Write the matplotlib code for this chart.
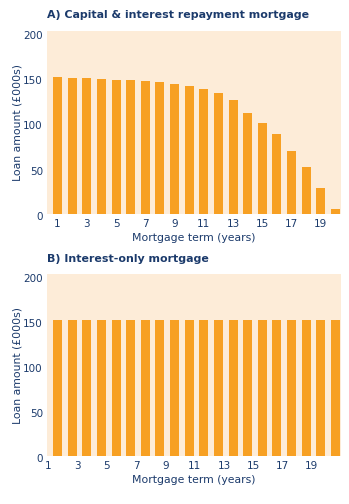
import matplotlib
matplotlib.use("Agg")
import matplotlib.pyplot as plt
import matplotlib.transforms as mtransforms
import numpy as np

years = list(range(1, 21))
repayment_loan = [151, 150, 150, 149, 148, 148, 147, 146, 143, 141,
                  138, 134, 126, 112, 101, 88, 69, 52, 29, 6]
interest_only_loan = [151] * 20
tick_years = [1, 3, 5, 7, 9, 11, 13, 15, 17, 19]
y_ticks = [0, 50, 100, 150, 200]

titles = ["A) Capital & interest repayment mortgage", "B) Interest-only mortgage"]
xlabel = "Mortgage term (years)"
ylabel = "Loan amount (£000s)"

BG = "#FDECD8"
BAR = "#F7A023"
NAVY = "#1B3A6B"

W, H = 349, 504
fig = plt.figure(figsize=(W / 100, H / 100), dpi=100)
fig.patch.set_facecolor("white")

def px_axes(left, top, right, bottom):
    return fig.add_axes([left / W, 1 - bottom / H, (right - left) / W, (bottom - top) / H])

axA = px_axes(47, 31, 341, 214)
axB = px_axes(47, 274, 341, 456)

for ax, vals, title, tick_shift in [(axA, repayment_loan, titles[0], 0.0),
                                    (axB, interest_only_loan, titles[1], -0.62)]:
    ax.set_facecolor(BG)
    ax.bar(years, vals, width=0.62, color=BAR, zorder=2)
    ax.set_xlim(0.28, 20.38)
    ax.set_ylim(0, 202)
    for s in ax.spines.values():
        s.set_visible(False)
    ax.set_yticks(y_ticks)
    ax.set_yticklabels([str(v) for v in y_ticks])
    ax.set_xticks([t + tick_shift for t in tick_years])
    ax.set_xticklabels([str(t) for t in tick_years])
    ax.tick_params(axis="both", length=0, labelsize=7.5, colors=NAVY)
    ax.tick_params(axis="y", pad=3)
    ax.tick_params(axis="x", pad=3.5)
    offset = mtransforms.ScaledTranslation(0, -2 / 100, fig.dpi_scale_trans)
    for lbl in ax.get_yticklabels():
        lbl.set_transform(lbl.get_transform() + offset)
    ax.set_xlabel(xlabel, fontsize=7.8, color=NAVY, labelpad=3)
    ax.set_ylabel(ylabel, fontsize=7.8, color=NAVY, labelpad=0.5)
    ax.set_title(title, loc="left", fontsize=7.9, fontweight="bold", color=NAVY, pad=9)

fig.savefig("out.png", dpi=100)
